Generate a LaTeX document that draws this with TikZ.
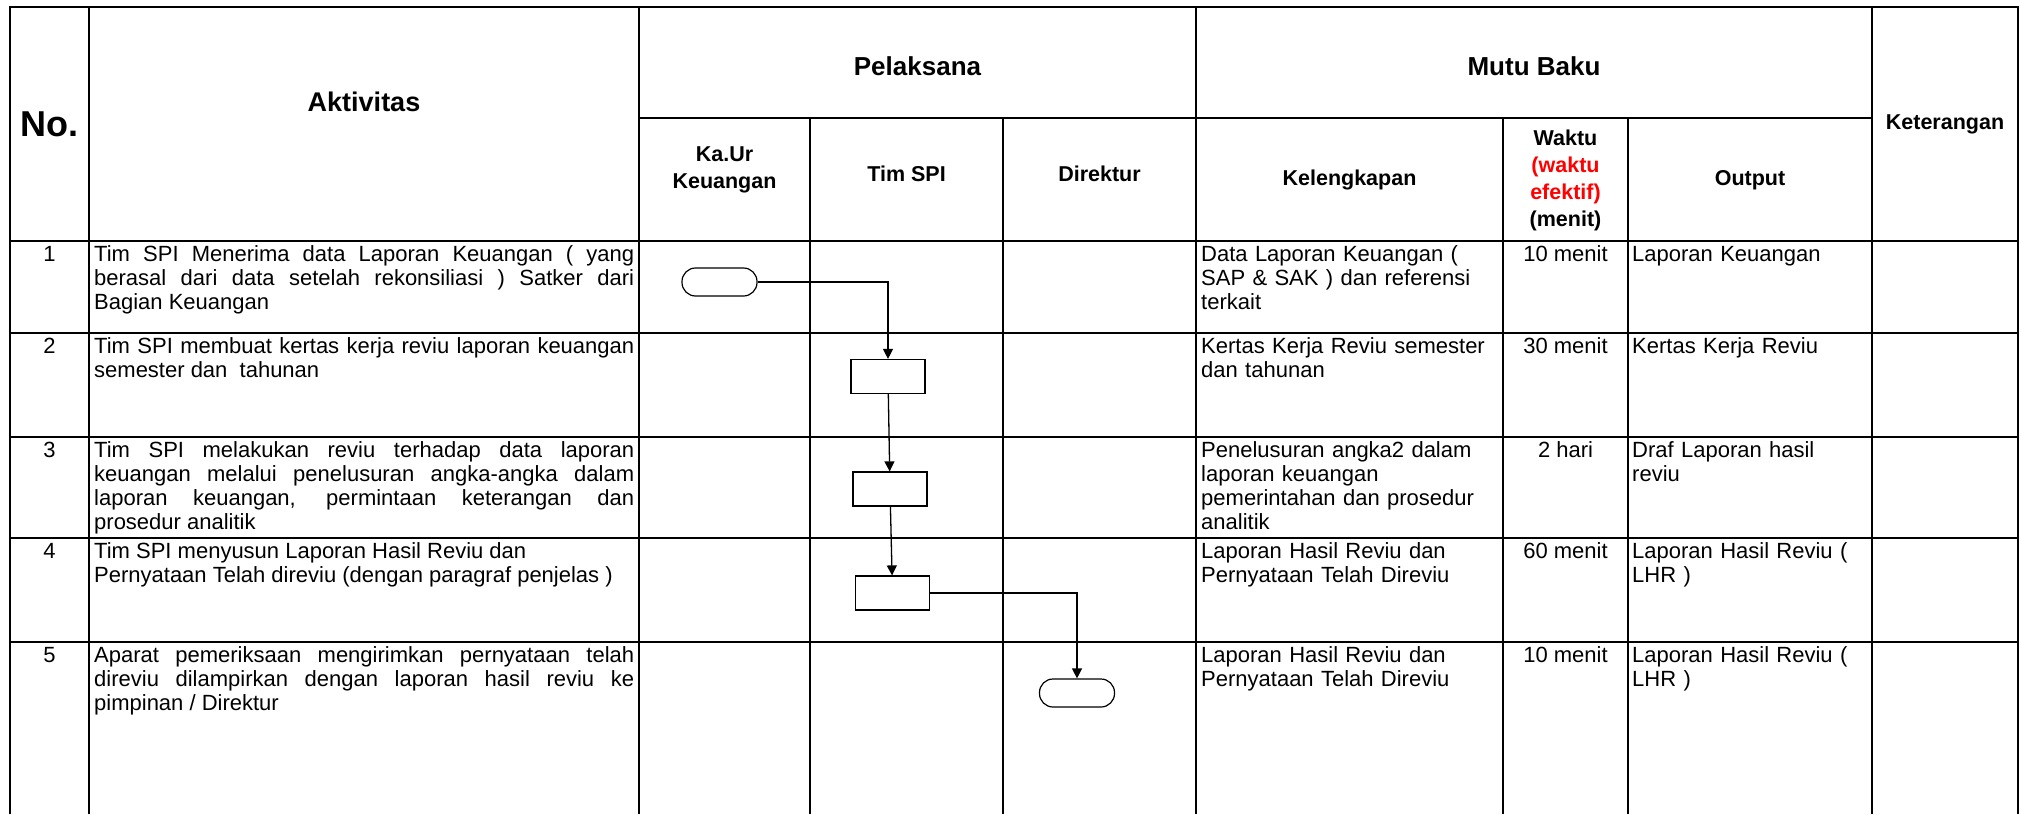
\documentclass[tikz,border=0pt]{standalone}
\usepackage{fontspec}
\setmainfont{Liberation Sans}
\usepackage{xcolor}
\usepackage{tikz}
\usetikzlibrary{shapes,arrows,arrows.meta}
\newcommand{\bodyfont}{\fontsize{22}{24}\selectfont}
\newcommand{\subheadfont}{\fontsize{21.5}{27}\selectfont\bfseries}
\newcommand{\groupfont}{\fontsize{26}{30}\selectfont\bfseries}
\tikzstyle{grid} = [draw, line width=2.3pt]
\tikzstyle{terminal} = [draw, rectangle, rounded corners=13.5pt, fill=white, line width=1.2pt,
    minimum width=75pt, minimum height=28pt, inner sep=0pt]
\tikzstyle{block} = [draw, rectangle, fill=white, line width=1.2pt, minimum width=74pt, minimum height=34pt, inner sep=0pt]
\tikzstyle{line} = [draw, line width=1.3pt, -{Triangle[length=10pt,width=10pt]}]
\tikzstyle{numcell} = [anchor=base, inner sep=0pt, font=\bodyfont]
\tikzstyle{actcell} = [anchor=base west, inner sep=0pt, text width=540pt, align=justify, font=\bodyfont]
\tikzstyle{kelcell} = [anchor=base west, inner sep=0pt, text width=298pt, align=left, font=\bodyfont]
\tikzstyle{outcell} = [anchor=base west, inner sep=0pt, text width=236pt, align=left, font=\bodyfont]
\tikzstyle{subhead} = [align=center, inner sep=0pt, font=\subheadfont]
\begin{document}
\begin{tikzpicture}[x=1pt, y=-1pt]
    \useasboundingbox (0,0) rectangle (2021,814);
    % Table lines
    \draw [grid] (10,814) -- (10,7) -- (2018,7) -- (2018,814);
    \foreach \x in {89,639,1196,1872} \draw [grid] (\x,7) -- (\x,814);
    \foreach \x in {810,1003,1503,1628} \draw [grid] (\x,118) -- (\x,814);
    \draw [grid] (639,118) -- (1872,118);
    \foreach \y in {241,333,437,538,642} \draw [grid] (10,\y) -- (2018,\y);
    % Header
    \node [font=\fontsize{36}{40}\selectfont\bfseries] (hno) at (49.5,124) {No.};
    \node [font=\fontsize{27}{32}\selectfont\bfseries] (hakt) at (364,102) {Aktivitas};
    \node [font=\groupfont] (hpel) at (917.5,66) {Pelaksana};
    \node [font=\groupfont] (hmutu) at (1534,66) {Mutu Baku};
    \node [subhead] (hket) at (1945,124) {Keterangan};
    \node [subhead] (hkaur) at (724.5,170) {Ka.Ur\\Keuangan};
    \node [subhead] (hspi) at (906.5,174) {Tim SPI};
    \node [subhead] (hdir) at (1099.5,174) {Direktur};
    \node [subhead] (hkel) at (1349.5,180) {Kelengkapan};
    \node [subhead] (hwaktu) at (1565.5,180) {Waktu\\\textcolor{red}{(waktu}\\\textcolor{red}{efektif)}\\(menit)};
    \node [subhead] (hout) at (1750,180) {Output};
    % Row 1
    \node [numcell] (no1) at (49.5,261) {1};
    \node [actcell] (act1) at (94,261) {Tim SPI Menerima data Laporan Keuangan ( yang\linebreak berasal dari data setelah rekonsiliasi ) Satker dari\linebreak Bagian Keuangan};
    \node [kelcell] (kel1) at (1201,261) {Data Laporan Keuangan (\\SAP \& SAK ) dan referensi\\terkait};
    \node [numcell] (time1) at (1565.5,261) {10 menit};
    \node [outcell] (out1) at (1632,261) {Laporan Keuangan};
    % Row 2
    \node [numcell] (no2) at (49.5,353) {2};
    \node [actcell] (act2) at (94,353) {Tim SPI membuat kertas kerja reviu laporan keuangan\linebreak semester dan\ \ tahunan};
    \node [kelcell] (kel2) at (1201,353) {Kertas Kerja Reviu semester\\dan tahunan};
    \node [numcell] (time2) at (1565.5,353) {30 menit};
    \node [outcell] (out2) at (1632,353) {Kertas Kerja Reviu};
    % Row 3
    \node [numcell] (no3) at (49.5,457) {3};
    \node [actcell] (act3) at (94,457) {Tim SPI melakukan reviu terhadap data laporan\linebreak keuangan melalui penelusuran angka-angka dalam\linebreak laporan keuangan, permintaan keterangan dan\linebreak prosedur analitik};
    \node [kelcell] (kel3) at (1201,457) {Penelusuran angka2 dalam\\laporan keuangan\\pemerintahan dan prosedur\\analitik};
    \node [numcell] (time3) at (1565.5,457) {2 hari};
    \node [outcell] (out3) at (1632,457) {Draf Laporan hasil\\reviu};
    % Row 4
    \node [numcell] (no4) at (49.5,558) {4};
    \node [actcell] (act4) at (94,558) {Tim SPI menyusun Laporan Hasil Reviu dan\newline Pernyataan Telah direviu (dengan paragraf penjelas )};
    \node [kelcell] (kel4) at (1201,558) {Laporan Hasil Reviu dan\\Pernyataan Telah Direviu};
    \node [numcell] (time4) at (1565.5,558) {60 menit};
    \node [outcell] (out4) at (1632,558) {Laporan Hasil Reviu (\\LHR )};
    % Row 5
    \node [numcell] (no5) at (49.5,662) {5};
    \node [actcell] (act5) at (94,662) {Aparat pemeriksaan mengirimkan pernyataan telah\linebreak direviu dilampirkan dengan laporan hasil reviu ke\linebreak pimpinan / Direktur};
    \node [kelcell] (kel5) at (1201,662) {Laporan Hasil Reviu dan\\Pernyataan Telah Direviu};
    \node [numcell] (time5) at (1565.5,662) {10 menit};
    \node [outcell] (out5) at (1632,662) {Laporan Hasil Reviu (\\LHR )};
    % Place nodes
    \node [terminal] (start) at (719.5,282) {};
    \node [block] (review1) at (888,376.5) {};
    \node [block] (review2) at (890,489) {};
    \node [block] (review3) at (892.5,593) {};
    \node [terminal] (finish) at (1077,693) {};
    % Draw edges
    \path [line] (start) -| (review1);
    \path [line] (review1) -- (review2);
    \path [line] (review2) -- (review3);
    \path [line] (review3) -| (finish);
\end{tikzpicture}
\end{document}
